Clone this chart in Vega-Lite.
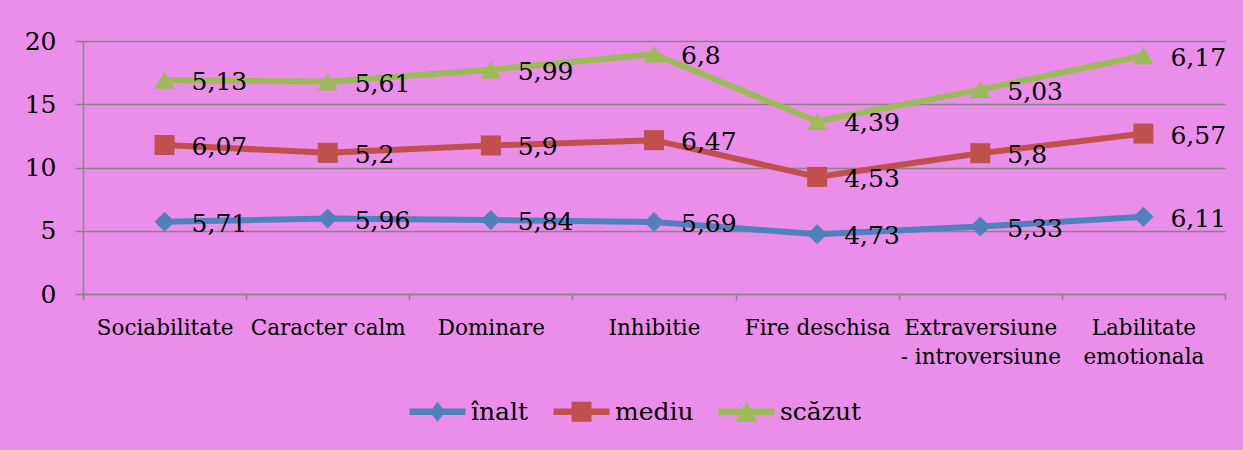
{
  "$schema": "https://vega.github.io/schema/vega-lite/v6.json",
  "width": 1142,
  "height": 253,
  "autosize": {"type": "none"},
  "padding": {"left": 83, "top": 41, "right": 18, "bottom": 156},
  "background": "#EA8EE9",
  "config": {"view": {"stroke": null}, "font": "DejaVu Serif"},
  "data": {
    "values": [
      {"cat": "Sociabilitate", "series": "înalt", "k": 1, "v": 5.71, "label": "5,71"},
      {"cat": "Caracter calm", "series": "înalt", "k": 1, "v": 5.96, "label": "5,96"},
      {"cat": "Dominare", "series": "înalt", "k": 1, "v": 5.84, "label": "5,84"},
      {"cat": "Inhibitie", "series": "înalt", "k": 1, "v": 5.69, "label": "5,69"},
      {"cat": "Fire deschisa", "series": "înalt", "k": 1, "v": 4.73, "label": "4,73"},
      {"cat": "Extraversiune - introversiune", "series": "înalt", "k": 1, "v": 5.33, "label": "5,33"},
      {"cat": "Labilitate emotionala", "series": "înalt", "k": 1, "v": 6.11, "label": "6,11"},
      {"cat": "Sociabilitate", "series": "mediu", "k": 2, "v": 6.07, "label": "6,07"},
      {"cat": "Caracter calm", "series": "mediu", "k": 2, "v": 5.2, "label": "5,2"},
      {"cat": "Dominare", "series": "mediu", "k": 2, "v": 5.9, "label": "5,9"},
      {"cat": "Inhibitie", "series": "mediu", "k": 2, "v": 6.47, "label": "6,47"},
      {"cat": "Fire deschisa", "series": "mediu", "k": 2, "v": 4.53, "label": "4,53"},
      {"cat": "Extraversiune - introversiune", "series": "mediu", "k": 2, "v": 5.8, "label": "5,8"},
      {"cat": "Labilitate emotionala", "series": "mediu", "k": 2, "v": 6.57, "label": "6,57"},
      {"cat": "Sociabilitate", "series": "scăzut", "k": 3, "v": 5.13, "label": "5,13"},
      {"cat": "Caracter calm", "series": "scăzut", "k": 3, "v": 5.61, "label": "5,61"},
      {"cat": "Dominare", "series": "scăzut", "k": 3, "v": 5.99, "label": "5,99"},
      {"cat": "Inhibitie", "series": "scăzut", "k": 3, "v": 6.8, "label": "6,8"},
      {"cat": "Fire deschisa", "series": "scăzut", "k": 3, "v": 4.39, "label": "4,39"},
      {"cat": "Extraversiune - introversiune", "series": "scăzut", "k": 3, "v": 5.03, "label": "5,03"},
      {"cat": "Labilitate emotionala", "series": "scăzut", "k": 3, "v": 6.17, "label": "6,17"}
    ]
  },
  "transform": [
    {"stack": "v", "groupby": ["cat"], "sort": [{"field": "k", "order": "ascending"}], "as": ["v0", "v1"]}
  ],
  "encoding": {
    "x": {
      "field": "cat",
      "type": "nominal",
      "sort": ["Sociabilitate", "Caracter calm", "Dominare", "Inhibitie", "Fire deschisa", "Extraversiune - introversiune", "Labilitate emotionala"],
      "scale": {"type": "band", "paddingInner": 0, "paddingOuter": 0},
      "axis": {
        "title": null,
        "labelAngle": 0,
        "labelFont": "DejaVu Serif",
        "labelFontSize": 21.5,
        "labelColor": "black",
        "labelBaseline": "alphabetic",
        "labelPadding": 34,
        "labelLineHeight": 29,
        "labelLimit": 0,
        "labelExpr": "datum.label == 'Extraversiune - introversiune' ? ['Extraversiune', '- introversiune'] : datum.label == 'Labilitate emotionala' ? ['Labilitate', 'emotionala'] : datum.label",
        "tickBand": "extent",
        "tickSize": 6,
        "tickColor": "#868686",
        "tickWidth": 1.5,
        "domainColor": "#868686",
        "domainWidth": 1.5,
        "grid": false
      }
    },
    "y": {
      "field": "v1",
      "type": "quantitative",
      "scale": {"domain": [0, 20], "nice": false},
      "axis": {
        "title": null,
        "values": [0, 5, 10, 15, 20],
        "labelFont": "DejaVu Serif",
        "labelFontSize": 25,
        "labelColor": "black",
        "labelPadding": 19,
        "tickSize": 8,
        "tickColor": "#868686",
        "tickWidth": 1.5,
        "domainColor": "#868686",
        "domainWidth": 1.5,
        "grid": true,
        "gridColor": "#868686",
        "gridWidth": 1.5
      }
    },
    "color": {
      "field": "series",
      "type": "nominal",
      "scale": {"domain": ["înalt", "mediu", "scăzut"], "range": ["#4F81BD", "#C0504D", "#9BBB59"]},
      "legend": {
        "title": null,
        "orient": "none",
        "legendX": 324,
        "legendY": 358,
        "direction": "horizontal",
        "symbolSize": 400,
        "symbolOffset": 18,
        "labelOffset": 21,
        "columnPadding": 22,
        "labelFont": "DejaVu Serif",
        "labelFontSize": 25,
        "labelColor": "black",
        "labelLimit": 0,
        "encode": {
          "symbols": {
            "update": {
              "shape": {"signal": "datum.value === 'înalt' ? 'M-2.8,-0.33H2.8V0.33H-2.8Z M0,-1L0.75,0L0,1L-0.75,0Z' : datum.value === 'mediu' ? 'M-2.8,-0.33H2.8V0.33H-2.8Z M-1,-1H1V1H-1Z' : 'M-2.8,-0.33H2.8V0.33H-2.8Z M0,-1.05L1.08,1H-1.08Z'"},
              "fill": {"scale": "color", "field": "value"},
              "fillOpacity": {"value": 1},
              "opacity": {"value": 1},
              "strokeWidth": {"value": 0}
            }
          }
        }
      }
    }
  },
  "layer": [
    {"mark": {"type": "line", "strokeWidth": 6}},
    {
      "transform": [{"filter": "datum.series === 'înalt'"}],
      "mark": {"type": "point", "filled": true, "opacity": 1, "size": 400, "shape": "diamond"}
    },
    {
      "transform": [{"filter": "datum.series === 'mediu'"}],
      "mark": {"type": "point", "filled": true, "opacity": 1, "size": 400, "shape": "square"}
    },
    {
      "transform": [{"filter": "datum.series === 'scăzut'"}],
      "mark": {"type": "point", "filled": true, "opacity": 1, "size": 400, "shape": "triangle-up"}
    },
    {
      "mark": {"type": "text", "align": "left", "baseline": "middle", "dx": 27, "dy": 2, "fontSize": 25, "font": "DejaVu Serif"},
      "encoding": {
        "text": {"field": "label"},
        "color": {"value": "black"}
      }
    }
  ]
}
